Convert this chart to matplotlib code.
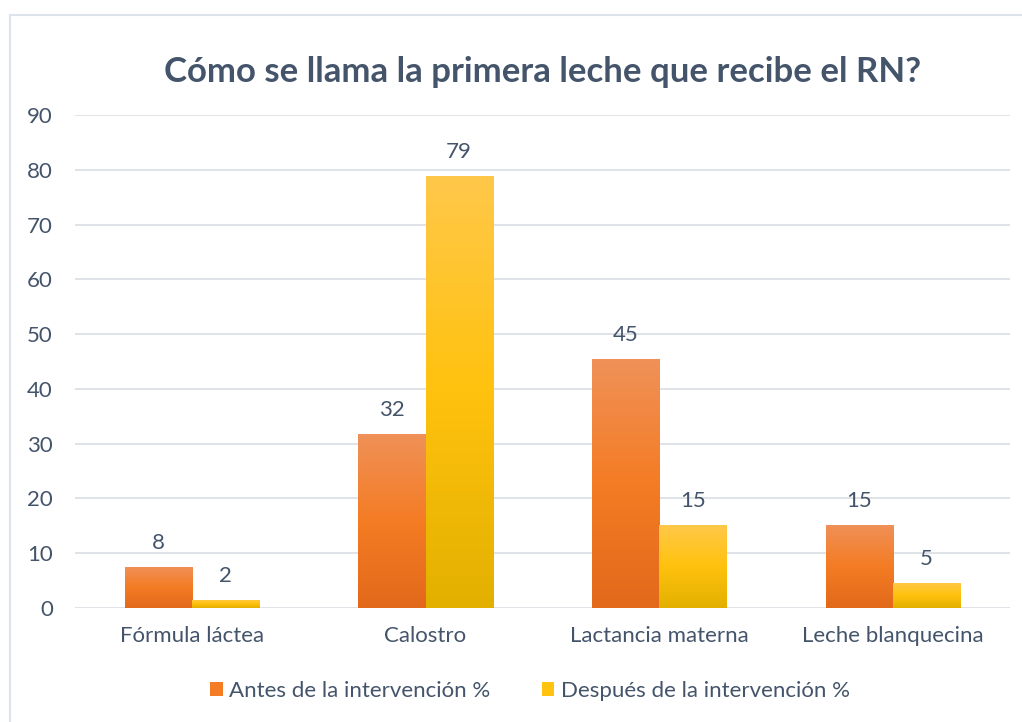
import matplotlib.pyplot as plt
import numpy as np
from matplotlib.patches import Rectangle, Patch
from matplotlib.colors import LinearSegmentedColormap

categories = ["Fórmula láctea", "Calostro", "Lactancia materna", "Leche blanquecina"]
antes = [7.5, 31.8, 45.4, 15.2]
despues = [1.5, 78.9, 15.2, 4.6]
series_names = ["Antes de la intervención %", "Después de la intervención %"]
title = "Cómo se llama la primera leche que recibe el RN?"

text_col = "#44546A"
grid_col = "#D9DDE3"
plt.rcParams['font.family'] = ['Lato', 'DejaVu Sans']

# gradient colour stops, top -> bottom
orange_cm = LinearSegmentedColormap.from_list("o", ["#F09158", "#F47C24", "#E2691A"])
yellow_cm = LinearSegmentedColormap.from_list("y", ["#FFC84A", "#FFC20E", "#E3B000"])

fig = plt.figure(figsize=(10.22, 7.22), dpi=100)
ax = fig.add_axes([0.0734, 0.158, 0.9146, 0.6827])

# outer chart frame (only top and left edges visible)
fig.patches.append(Rectangle((10 / 1022, -0.01), 1.05, 1 - 15 / 722 + 0.01,
                             transform=fig.transFigure, fill=False,
                             edgecolor="#DDE3EA", lw=1.5))

x = np.arange(len(categories))
w = 0.287
grad = np.linspace(0, 1, 256).reshape(-1, 1)

def grad_bars(xs, vals, cmap):
    bars = ax.bar(xs, vals, w, color="none", zorder=3)
    for b in bars:
        x0, y0 = b.get_x(), b.get_y()
        im = ax.imshow(grad, cmap=cmap, aspect='auto', zorder=3,
                       extent=[x0, x0 + b.get_width(), y0, y0 + b.get_height()])
        im.set_clip_path(b)
    for xi, v in zip(xs, vals):
        ax.annotate("{:.0f}".format(v), (xi, v), xytext=(0, 10), textcoords='offset points',
                    ha='center', va='bottom', fontsize=16, color=text_col)

grad_bars(x - w / 2, antes, orange_cm)
grad_bars(x + w / 2, despues, yellow_cm)

ax.set_xlim(-0.5, len(categories) - 0.5)
ax.set_ylim(0, 90)
ax.set_yticks(range(0, 91, 10))
ax.set_xticks(x)
ax.set_xticklabels(categories)
ax.tick_params(axis='both', length=0, labelsize=16, labelcolor=text_col)
ax.tick_params(axis='y', pad=16)
ax.tick_params(axis='x', pad=13)
ax.grid(axis='y', color=grid_col, lw=1.2, zorder=0)
ax.set_axisbelow(True)
for s in ax.spines.values():
    s.set_visible(False)

fig.text(0.531, 0.9, title, ha='center', va='center', fontsize=25,
         fontweight='bold', color=text_col)

handles = [Patch(facecolor="#F47C24"), Patch(facecolor="#FFC20E")]
fig.legend(handles, series_names, loc='center', bbox_to_anchor=(0.5186, 0.043), ncol=2,
           frameon=False, fontsize=16, labelcolor=text_col, handlelength=0.55,
           handleheight=0.55, handletextpad=0.3, columnspacing=2.3)

fig.savefig("out.png", dpi=100)
